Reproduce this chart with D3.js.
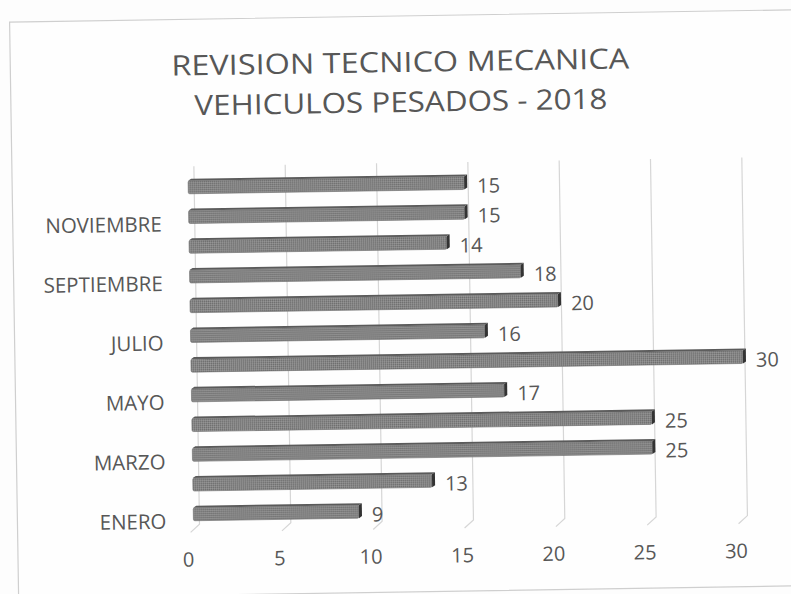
<!DOCTYPE html>
<html>
<head>
<meta charset="utf-8">
<script src="https://cdn.jsdelivr.net/npm/d3@7"></script>
<style>
  html, body { margin: 0; padding: 0; background: #fdfdfd; }
  svg { display: block; }
  text { font-family: "Open Sans", "DejaVu Sans", sans-serif; fill: #575757; }
</style>
</head>
<body>
<svg id="chart" width="791" height="594"></svg>
<script>
// Monthly heavy-vehicle inspections, 2018
const months = ["ENERO", "FEBRERO", "MARZO", "ABRIL", "MAYO", "JUNIO",
                "JULIO", "AGOSTO", "SEPTIEMBRE", "OCTUBRE", "NOVIEMBRE", "DICIEMBRE"];
const values = [9, 13, 25, 25, 17, 30, 16, 20, 18, 14, 15, 15];
const xTicks = [0, 5, 10, 15, 20, 25, 30];
const titleLines = ["REVISION TECNICO MECANICA", "VEHICULOS PESADOS - 2018"];

const data = months.map((m, i) => ({ month: m, value: values[i] }));

const svg = d3.select("#chart");

// textured fill for the bar faces
const defs = svg.append("defs");
const pat = defs.append("pattern")
  .attr("id", "barTex").attr("width", 2).attr("height", 2)
  .attr("patternUnits", "userSpaceOnUse");
pat.append("rect").attr("width", 2).attr("height", 2).attr("fill", "#858585");
pat.append("rect").attr("width", 1).attr("height", 1).attr("fill", "#6e6e6e");
pat.append("rect").attr("x", 1).attr("y", 1).attr("width", 1).attr("height", 1).attr("fill", "#979797");

// the whole chart sits slightly tilted
const g = svg.append("g").attr("transform", "rotate(-0.9, 400, 300)");

// chart area border
g.append("rect")
  .attr("x", 14).attr("y", 16).attr("width", 800).attr("height", 576)
  .attr("fill", "#fefefe").attr("stroke", "#cfcfcf").attr("stroke-width", 1.2);

// title
g.append("g").selectAll("text")
  .data(titleLines)
  .join("text")
  .attr("x", 404)
  .attr("y", (d, i) => 72 + i * 40)
  .attr("text-anchor", "middle")
  .attr("font-size", 28)
  .attr("fill", "#505050")
  .attr("textLength", (d, i) => i === 0 ? 458 : 413)
  .attr("lengthAdjust", "spacingAndGlyphs")
  .text(d => d);

// scales: back wall (gridlines) and front plane (bar faces)
const xBack = d3.scaleLinear().domain([0, 30]).range([196, 744]);
const xFront = d3.scaleLinear().domain([0, 30]).range([190, 742]);
const y = d3.scalePoint().domain(months).range([511, 184]);

// gridlines with the short floor edge at the bottom
const gridTop = 163, gridBottom = 521;
g.append("g").selectAll("path")
  .data(xTicks)
  .join("path")
  .attr("d", v => `M${xBack(v)},${gridTop} L${xBack(v)},${gridBottom} L${xBack(v) - 9},${gridBottom + 8}`)
  .attr("fill", "none")
  .attr("stroke", "#d6d6d6")
  .attr("stroke-width", 1.2);

// 3D bars
const half = 6.5, depthX = 3, depthY = 2;
const bars = g.append("g").selectAll("g")
  .data(data)
  .join("g");

// top face
bars.append("path")
  .attr("d", d => {
    const x0 = xFront(0), x1 = xFront(d.value), c = y(d.month);
    return `M${x0},${c - half} L${x0 + depthX},${c - half - depthY} L${x1 + depthX},${c - half - depthY} L${x1},${c - half} Z`;
  })
  .attr("fill", "#5a5a5a");

// front face
bars.append("rect")
  .attr("x", xFront(0))
  .attr("y", d => y(d.month) - half)
  .attr("width", d => xFront(d.value) - xFront(0))
  .attr("height", half * 2)
  .attr("rx", 1.5)
  .attr("fill", "url(#barTex)")
  .attr("stroke", "#6a6a6a")
  .attr("stroke-width", 0.6);

// end face
bars.append("path")
  .attr("d", d => {
    const x1 = xFront(d.value), c = y(d.month);
    return `M${x1},${c - half} L${x1 + depthX},${c - half - depthY} L${x1 + depthX},${c + half - depthY} L${x1},${c + half} Z`;
  })
  .attr("fill", "#333");

// value labels
g.append("g").selectAll("text")
  .data(data)
  .join("text")
  .attr("x", d => xFront(d.value) + 13)
  .attr("y", d => y(d.month) + 10)
  .attr("font-size", 20)
  .text(d => d.value);

// category axis: every other month is labelled
const yAxis = d3.axisLeft(y)
  .tickValues(months.filter((d, i) => i % 2 === 0))
  .tickSize(0)
  .tickPadding(0);
const yAxisG = g.append("g")
  .attr("transform", "translate(163, 7)")
  .call(yAxis);
yAxisG.select(".domain").remove();
yAxisG.selectAll("text")
  .attr("font-size", 20.5)
  .attr("fill", "#575757")
  .style("font-family", '"Open Sans", "DejaVu Sans", sans-serif');

// value axis labels along the floor
const xAxis = d3.axisBottom(xBack)
  .tickValues(xTicks)
  .tickSize(0)
  .tickPadding(3);
const xAxisG = g.append("g")
  .attr("transform", "translate(-12, 546)")
  .call(xAxis);
xAxisG.select(".domain").remove();
xAxisG.selectAll("text")
  .attr("font-size", 20)
  .attr("fill", "#575757")
  .style("font-family", '"Open Sans", "DejaVu Sans", sans-serif');
</script>
</body>
</html>
